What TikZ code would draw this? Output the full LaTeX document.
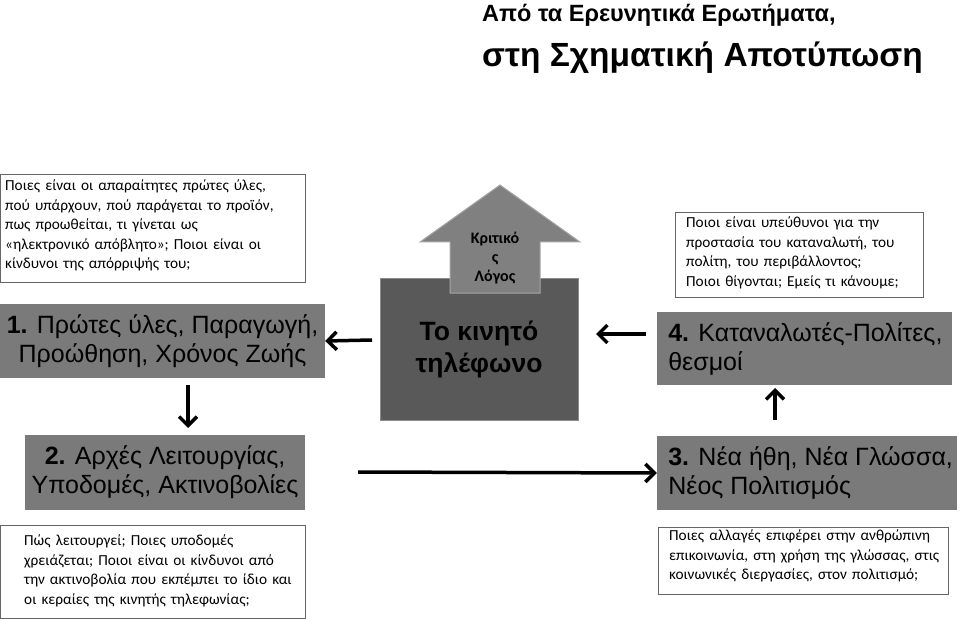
\documentclass[tikz,border=0pt]{standalone}
\usepackage{fontspec}
\setmainfont{Liberation Sans}
\newfontfamily\calfont{Carlito}
\usetikzlibrary{arrows.meta}
\begin{document}
\begin{tikzpicture}[x=1pt,y=-1pt,
  qbox/.style={draw=gray!80!black,line width=1pt,fill=white,inner sep=0},
  gbox/.style={fill=black!52,inner sep=0},
  qtext/.style={anchor=north west,align=left,font=\calfont\fontsize{15.3}{19.5}\selectfont,text width=320pt,inner sep=0},
  btext/.style={align=center,font=\fontsize{25}{29}\selectfont},
  arr/.style={line width=3.5pt,-{Straight Barb[length=9pt,width=18pt,line width=3.5pt]}}]
\useasboundingbox (0,0) rectangle (960,620);
% title
\node[anchor=west,font=\bfseries\fontsize{23.5}{28}\selectfont,inner sep=0] (t1) at (482,15) {Από τα Ερευνητικά Ερωτήματα,};
\node[anchor=west,font=\bfseries\fontsize{33.5}{38}\selectfont,inner sep=0] (t2) at (482,58) {στη Σχηματική Αποτύπωση};
% left question boxes
\draw[qbox] (0,175) rectangle (305,282);
\node[qtext] (q1) at (5,180) {Ποιες είναι οι απαραίτητες πρώτες ύλες,\\πού υπάρχουν, πού παράγεται το προϊόν,\\πως προωθείται, τι γίνεται ως\\«ηλεκτρονικό απόβλητο»; Ποιοι είναι οι\\κίνδυνοι της απόρριψής του;};
\draw[qbox] (0,525) rectangle (305,618);
\node[qtext] (q2) at (24,535) {Πώς λειτουργεί; Ποιες υποδομές\\χρειάζεται; Ποιοι είναι οι κίνδυνοι από\\την ακτινοβολία που εκπέμπει το ίδιο και\\οι κεραίες της κινητής τηλεφωνίας;};
\draw[qbox] (675,213) rectangle (923,297);
\node[qtext] (q4) at (686,217) {Ποιοι είναι υπεύθυνοι για την\\προστασία του καταναλωτή, του\\πολίτη, του περιβάλλοντος;\\Ποιοι θίγονται; Εμείς τι κάνουμε;};
\draw[qbox] (658,527) rectangle (948,594);
\node[qtext] (q3) at (669,530) {Ποιες αλλαγές επιφέρει στην ανθρώπινη\\επικοινωνία, στη χρήση της γλώσσας, στις\\κοινωνικές διεργασίες, στον πολιτισμό;};
% grey boxes
\node[gbox,minimum width=325pt,minimum height=74pt] (b1) at (162.5,341) {};
\node[btext] at (b1) {\textbf{1.} Πρώτες ύλες, Παραγωγή,\\Προώθηση, Χρόνος Ζωής};
\node[gbox,minimum width=280pt,minimum height=75pt] (b2) at (165,472.5) {};
\node[btext] at (b2) {\textbf{2.} Αρχές Λειτουργίας,\\Υποδομές, Ακτινοβολίες};
\node[gbox,minimum width=295pt,minimum height=73pt] (b4) at (804.5,348.5) {};
\node[btext,anchor=west,align=left] at ([xshift=8pt]b4.west) {\textbf{4.} Καταναλωτές-Πολίτες,\\θεσμοί};
\node[gbox,minimum width=300pt,minimum height=74pt] (b3) at (807,473) {};
\node[btext,anchor=west,align=left] at ([xshift=8pt]b3.west) {\textbf{3.} Νέα ήθη, Νέα Γλώσσα,\\Νέος Πολιτισμός};
% centre
\node[fill=black!65,draw=black!45,line width=1pt,minimum width=198pt,minimum height=142pt] (c) at (479,349) {};
\fill[black!50,draw=black!35,line width=1pt] (500,185) -- (580,242) -- (540,242) -- (540,293) -- (450,293) -- (450,242) -- (420,242) -- cycle;
\node[font=\calfont\bfseries\fontsize{16}{19}\selectfont,align=center] (kl) at (495,258) {Κριτικό\\ς\\Λόγος};
\node[btext,font=\bfseries\fontsize{26.5}{32}\selectfont] (ct) at (479,349) {Το κινητό\\τηλέφωνο};
% arrows
\coordinate (a1s) at (372,340);
\draw[arr] (a1s) -- (b1.east);
\coordinate (a4s) at (646,334);
\draw[arr] (a4s) -- (596,334);
\draw[arr] (188,385) -- (188,428);
\draw[arr] (775,420) -- (775,388);
\draw[arr] (358,472) -- (b3.west);
\end{tikzpicture}
\end{document}
